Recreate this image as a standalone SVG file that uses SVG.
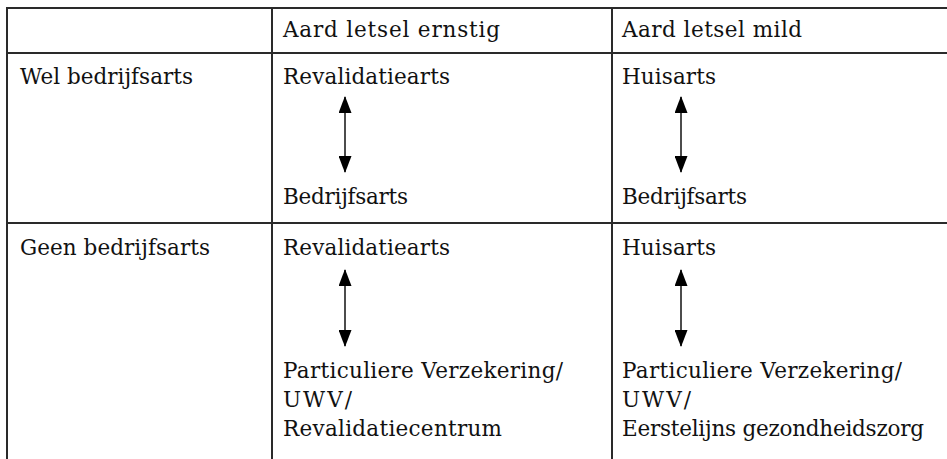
<svg xmlns="http://www.w3.org/2000/svg" width="947" height="459" viewBox="0 0 947 459">
<defs>
<style>
.t{font-family:"DejaVu Serif","Liberation Serif",serif;font-size:21.5px;fill:#111}
.g{stroke:#2a2a2a;stroke-width:2;fill:none}
.a{stroke:#111;stroke-width:1.5;fill:none}
</style>
<marker id="ah" viewBox="0 0 17 13" refX="16" refY="6.5" markerWidth="17" markerHeight="13" markerUnits="userSpaceOnUse" orient="auto-start-reverse">
<path d="M0,0 L17,6.5 L0,13 Z" fill="#000"/>
</marker>
</defs>
<rect width="947" height="459" fill="#fff"/>
<g id="grid">
<path class="g" d="M7,459 V8 H947 M272,8 V459 M612,8 V459 M7,53 H947 M7,223 H947"/>
</g>
<g id="h1"><text class="t" x="283" y="37" textLength="217">Aard letsel ernstig</text></g>
<g id="h2"><text class="t" x="622" y="37" textLength="180">Aard letsel mild</text></g>
<g id="r1"><text class="t" x="20" y="84" textLength="173">Wel bedrijfsarts</text></g>
<g id="r2"><text class="t" x="20" y="255" textLength="190">Geen bedrijfsarts</text></g>
<g id="n1"><text class="t" x="283" y="84" textLength="167">Revalidatiearts</text></g>
<g id="n2"><text class="t" x="283" y="204" textLength="125">Bedrijfsarts</text></g>
<g id="n3"><text class="t" x="622" y="84" textLength="94">Huisarts</text></g>
<g id="n4"><text class="t" x="622" y="204" textLength="125">Bedrijfsarts</text></g>
<g id="n5"><text class="t" x="283" y="255" textLength="167">Revalidatiearts</text></g>
<g id="n6"><text class="t" x="283" y="378" textLength="280">Particuliere Verzekering/</text><text class="t" x="283" y="407" textLength="69">UWV/</text><text class="t" x="283" y="436" textLength="219">Revalidatiecentrum</text></g>
<g id="n7"><text class="t" x="622" y="255" textLength="94">Huisarts</text></g>
<g id="n8"><text class="t" x="622" y="378" textLength="280">Particuliere Verzekering/</text><text class="t" x="622" y="407" textLength="69">UWV/</text><text class="t" x="622" y="436" textLength="302">Eerstelijns gezondheidszorg</text></g>
<g id="connectors">
<line class="a" x1="345" y1="97" x2="345" y2="172" marker-start="url(#ah)" marker-end="url(#ah)"/>
<line class="a" x1="681" y1="97" x2="681" y2="172" marker-start="url(#ah)" marker-end="url(#ah)"/>
<line class="a" x1="345" y1="270" x2="345" y2="346" marker-start="url(#ah)" marker-end="url(#ah)"/>
<line class="a" x1="681" y1="270" x2="681" y2="346" marker-start="url(#ah)" marker-end="url(#ah)"/>
</g>
</svg>
